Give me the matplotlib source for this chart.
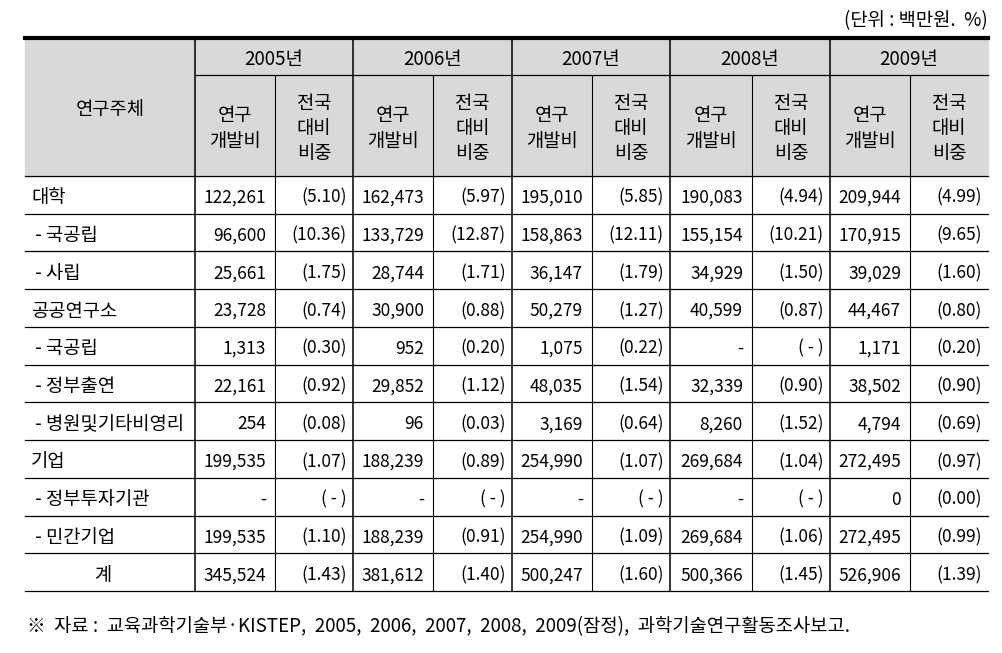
import matplotlib.pyplot as plt
import matplotlib

matplotlib.rcParams['font.family'] = ['Noto Sans CJK KR', 'DejaVu Sans']

years = ['2005년', '2006년', '2007년', '2008년', '2009년']
rows = ['대학', ' - 국공립', ' - 사립', '공공연구소', ' - 국공립', ' - 정부출연',
        ' - 병원및기타비영리', '기업', ' - 정부투자기관', ' - 민간기업', '계']
rnd = [
    ['122,261', '162,473', '195,010', '190,083', '209,944'],
    ['96,600', '133,729', '158,863', '155,154', '170,915'],
    ['25,661', '28,744', '36,147', '34,929', '39,029'],
    ['23,728', '30,900', '50,279', '40,599', '44,467'],
    ['1,313', '952', '1,075', '-', '1,171'],
    ['22,161', '29,852', '48,035', '32,339', '38,502'],
    ['254', '96', '3,169', '8,260', '4,794'],
    ['199,535', '188,239', '254,990', '269,684', '272,495'],
    ['-', '-', '-', '-', '0'],
    ['199,535', '188,239', '254,990', '269,684', '272,495'],
    ['345,524', '381,612', '500,247', '500,366', '526,906'],
]
share = [
    ['(5.10)', '(5.97)', '(5.85)', '(4.94)', '(4.99)'],
    ['(10.36)', '(12.87)', '(12.11)', '(10.21)', '(9.65)'],
    ['(1.75)', '(1.71)', '(1.79)', '(1.50)', '(1.60)'],
    ['(0.74)', '(0.88)', '(1.27)', '(0.87)', '(0.80)'],
    ['(0.30)', '(0.20)', '(0.22)', '( - )', '(0.20)'],
    ['(0.92)', '(1.12)', '(1.54)', '(0.90)', '(0.90)'],
    ['(0.08)', '(0.03)', '(0.64)', '(1.52)', '(0.69)'],
    ['(1.07)', '(0.89)', '(1.07)', '(1.04)', '(0.97)'],
    ['( - )', '( - )', '( - )', '( - )', '(0.00)'],
    ['(1.10)', '(0.91)', '(1.09)', '(1.06)', '(0.99)'],
    ['(1.43)', '(1.40)', '(1.60)', '(1.45)', '(1.39)'],
]

fig = plt.figure(figsize=(10.02, 6.53), dpi=100)
ax = fig.add_axes([0, 0, 1, 1])
ax.set_xlim(0, 1002)
ax.set_ylim(653, 0)
ax.axis('off')

# 격자 좌표 (픽셀)
xs = [25, 195, 275, 353, 433, 512, 592, 670, 752, 830, 910, 988]
top, ymid, hbot = 38, 75, 176
rh = (591 - hbot) / len(rows)
bottom = hbot + rh * len(rows)
fs = 12.5
hfs = 13.5
dy = 3  # 한글 폰트 세로 보정

ax.add_patch(plt.Rectangle((xs[0], top), xs[-1] - xs[0], hbot - top,
                           color='#d9d9d9', zorder=0))
lc = 'black'
ax.plot([xs[0], xs[-1]], [top, top], color=lc, lw=3)
ax.plot([xs[1], xs[-1]], [ymid, ymid], color=lc, lw=0.9)
for i in range(len(rows) + 1):
    y = hbot + i * rh
    ax.plot([xs[0], xs[-1]], [y, y], color=lc, lw=0.9)
for i, x in enumerate(xs[1:-1], start=1):
    y0 = top if i % 2 == 1 else ymid
    ax.plot([x, x], [y0, bottom], color=lc, lw=1.1 if i % 2 == 1 else 0.8)

ax.text(xs[-1], 18 + dy, '(단위 : 백만원.  %)', ha='right', va='center', fontsize=hfs)
ax.text((xs[0] + xs[1]) / 2, (top + hbot) / 2 + dy, '연구주체', ha='center', va='center', fontsize=hfs)
for k, yr in enumerate(years):
    x0, x1, x2 = xs[1 + 2 * k], xs[2 + 2 * k], xs[3 + 2 * k]
    ax.text((x0 + x2) / 2, (top + ymid) / 2 + dy, yr, ha='center', va='center', fontsize=hfs)
    ax.text((x0 + x1) / 2, (ymid + hbot) / 2 + dy, '연구\n개발비', ha='center', va='center',
            fontsize=hfs, linespacing=1.25)
    ax.text((x1 + x2) / 2, (ymid + hbot) / 2 + dy, '전국\n대비\n비중', ha='center', va='center',
            fontsize=hfs, linespacing=1.25)

for i, name in enumerate(rows):
    yc = hbot + (i + 0.5) * rh + dy
    if name == '계':
        ax.text(103, yc, name, ha='center', va='center', fontsize=hfs)
    else:
        ax.text(31, yc, name, ha='left', va='center', fontsize=hfs)
    for k in range(5):
        ax.text(xs[2 + 2 * k] - 9, yc, rnd[i][k], ha='right', va='center', fontsize=fs)
        ax.text(xs[3 + 2 * k] - 6, yc, share[i][k], ha='right', va='center', fontsize=fs)

ax.text(27, 627, '※  자료 :  교육과학기술부·KISTEP,  2005,  2006,  2007,  2008,  2009(잠정),  과학기술연구활동조사보고.',
        ha='left', va='center', fontsize=13.5)

fig.savefig('out.png', dpi=100)
